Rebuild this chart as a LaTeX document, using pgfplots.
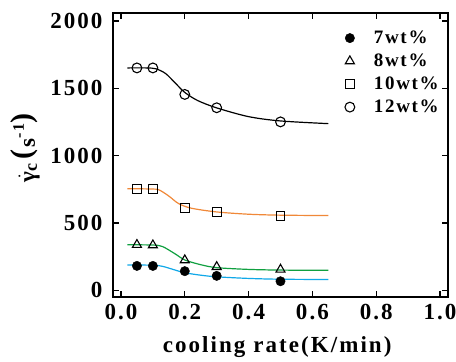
\documentclass[border=0pt]{standalone}
\usepackage{pgfplots}
\pgfplotsset{compat=1.18}
\usepackage{amsmath}
\usepackage{fontspec}
\setmainfont{Liberation Serif}
\newfontfamily\spc{Liberation Serif}[LetterSpace=9]
\definecolor{corange}{HTML}{F08838}
\definecolor{cgreen}{HTML}{10A040}
\definecolor{cblue}{HTML}{10A8E8}
\begin{document}
\begin{tikzpicture}
\begin{axis}[
  scale only axis, width=335pt, height=284pt,
  xmin=-0.025, xmax=1.025, ymin=-50, ymax=2060,
  xtick={0,0.2,0.4,0.6,0.8,1.0}, ytick={0,500,1000,1500,2000},
  xticklabel style={yshift=-4pt, /pgf/number format/.cd, fixed, fixed zerofill, precision=1},
  yticklabel style={xshift=-7pt, /pgf/number format/.cd, fixed, 1000 sep={}},
  /pgf/number format/assume math mode=true,
  tick label style={font=\spc\bfseries\fontsize{23}{25}\selectfont},
  tick align=inside, tick pos=both, major tick length=6pt,
  axis line style={line width=2pt}, tick style={line width=1.2pt, black},
  xlabel={cooling rate(K/min)},
  xlabel style={at={(axis description cs:0.49,-0.178)}, anchor=center},
  ylabel={\mbox{$\dot{\mbox{γ}}$\raisebox{-2pt}{\fontsize{18}{18}\selectfont c}\hspace{4pt}\raisebox{3pt}{\fontsize{30}{30}\selectfont(}\hspace{2pt}s\raisebox{11pt}{\fontsize{16}{16}\selectfont -1}\raisebox{3pt}{\fontsize{30}{30}\selectfont)}}},
  ylabel style={at={(axis description cs:-0.218,0.525)}, anchor=south, inner sep=0pt},
  label style={font=\spc\bfseries\fontsize{23}{25}\selectfont},
  legend image code/.code={\path[draw=none,fill=none] (0pt,-4pt) rectangle (28pt,4pt); \draw[#1] plot coordinates {(6pt,0pt)};},
  legend style={draw=none, fill=none, at={(axis cs:0.698,1953)}, anchor=north west,
    font=\spc\bfseries\fontsize{19}{22}\selectfont, row sep=2pt, inner sep=0pt,
    nodes={text height=14pt, text depth=3pt, inner sep=2pt}},
  legend cell align=left,
]
\addplot[black, line width=1.2pt, smooth, forget plot] coordinates {
(0.02,1652) (0.08,1652) (0.11,1645) (0.14,1610) (0.17,1540) (0.2,1470) (0.24,1410) (0.3,1355) (0.4,1290) (0.5,1258) (0.65,1238)};
\addplot[corange, line width=1.2pt, smooth, forget plot] coordinates {
(0.02,755) (0.1,752) (0.12,745) (0.15,700) (0.18,645) (0.22,610) (0.3,582) (0.4,565) (0.5,558) (0.65,555)};
\addplot[cgreen, line width=1.2pt, smooth, forget plot] coordinates {
(0.02,338) (0.1,336) (0.13,325) (0.17,270) (0.2,225) (0.25,190) (0.3,168) (0.4,155) (0.5,150) (0.65,148)};
\addplot[cblue, line width=1.2pt, smooth, forget plot] coordinates {
(0.02,188) (0.1,186) (0.13,178) (0.17,150) (0.2,130) (0.25,112) (0.3,100) (0.4,88) (0.5,82) (0.65,80)};
\addplot[only marks, mark=*, mark size=4.7pt, mark options={fill=black, draw=black}] coordinates {
(0.05,181) (0.1,181) (0.2,142) (0.3,107) (0.5,67)};
\addlegendentry{7wt\%}
\addplot[only marks, mark=triangle, mark size=5.2pt, mark options={fill=white, draw=black, line width=1.1pt}] coordinates {
(0.05,338) (0.1,335) (0.2,224) (0.3,174) (0.5,154)};
\addlegendentry{8wt\%}
\addplot[only marks, mark=square, mark size=4.4pt, mark options={fill=white, draw=black, line width=1.1pt}] coordinates {
(0.05,752) (0.1,752) (0.2,612) (0.3,584) (0.5,554)};
\addlegendentry{10wt\%}
\addplot[only marks, mark=o, mark size=4.9pt, mark options={fill=white, draw=black, line width=1.1pt}] coordinates {
(0.05,1652) (0.1,1652) (0.2,1455) (0.3,1356) (0.5,1251)};
\addlegendentry{12wt\%}
\end{axis}
\pgfresetboundingbox
\path ([xshift=-113pt,yshift=-65pt]current axis.south west) rectangle ([xshift=8pt,yshift=13pt]current axis.north east);
\end{tikzpicture}
\end{document}
